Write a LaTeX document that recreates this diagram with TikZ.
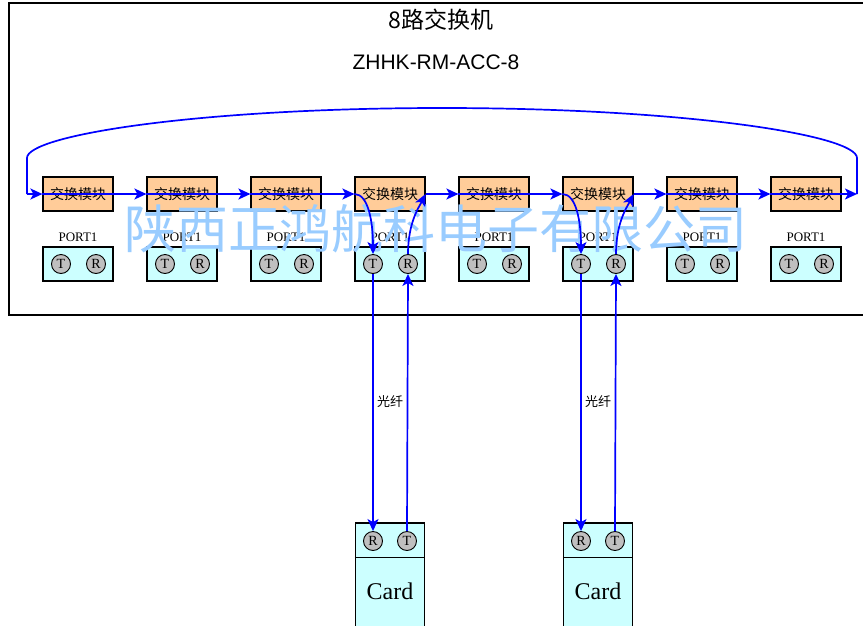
\documentclass[tikz,border=0pt]{standalone}
\usepackage{fontspec}
\setmainfont{Liberation Serif}
\newfontfamily\cjk{Noto Sans CJK SC}
\newfontfamily\arial{Liberation Sans}
\usepackage{tikz}
\usetikzlibrary{arrows.meta,calc}
\definecolor{modulfill}{HTML}{FFCC99}
\definecolor{portfill}{HTML}{CCFFFF}
\definecolor{pinfill}{HTML}{BFBFBF}
\definecolor{wmblue}{HTML}{99CCFF}

\begin{document}
\begin{tikzpicture}[x=1pt,y=-1pt,
  modul/.style={draw,line width=1.2pt,fill=modulfill,minimum width=70pt,minimum height=34pt,inner sep=0pt,font=\cjk\fontsize{14}{14}\selectfont},
  port/.style={draw,line width=1.2pt,fill=portfill,minimum width=70pt,minimum height=34pt,inner sep=0pt},
  pin/.style={circle,draw,line width=0.9pt,fill=pinfill,minimum size=19pt,inner sep=0pt,font=\fontsize{14}{14}\selectfont},
  card/.style={draw,line width=1.2pt,fill=portfill,minimum width=69pt,minimum height=117pt,inner sep=0pt},
  fib/.style={blue,line width=1.7pt,-{Stealth[length=12pt,width=11pt,inset=3pt]}},
  fibline/.style={blue,line width=1.7pt}]
\useasboundingbox (0,0) rectangle (863,625);
\draw[line width=1.2pt] (9,3) rectangle (880,315);

\node[font=\cjk\fontsize{23}{23}\selectfont] (title) at (441,20) {8路交换机};
\node[font=\arial\fontsize{21}{21}\selectfont] (model) at (436,62) {ZHHK-RM-ACC-8};

% modules and ports
\foreach \i in {1,...,8} {
  \node[modul] (m\i) at ({78+104*(\i-1)},194) {交换模块};
  \node[port] (p\i) at ({78+104*(\i-1)},264) {};
  \node[font=\fontsize{13}{13}\selectfont] (l\i) at ({78+104*(\i-1)},237) {PORT1};
  \node[pin] (t\i) at ({61+104*(\i-1)},264) {T};
  \node[pin] (r\i) at ({96+104*(\i-1)},264) {R};
}

% cards
\foreach \j/\x in {1/390,2/598} {
  \node[card] (c\j) at (\x,581.5) {};
  \draw[line width=1.2pt] ($(c\j.north west)+(0,35)$) -- ($(c\j.north east)+(0,35)$);
  \node[pin] (cr\j) at ({\x-17},541) {R};
  \node[pin] (ct\j) at ({\x+17},541) {T};
  \node[font=\fontsize{24}{24}\selectfont] (cl\j) at (\x,591) {Card};
}

\node[text=wmblue,font=\cjk\fontsize{52}{52}\selectfont] (wm) at (436,229) {陕西正鸿航科电子有限公司};

% ring
\coordinate (lft) at (27,194);
\coordinate (rgt) at (857,194);
\draw[fib] (lft) -- (m1.west);
\draw[fib] (m1.west) -- (m2.west);
\draw[fib] (m2.west) -- (m3.west);
\draw[fib] (m3.west) -- (m4.west);
\draw[fib] (m4.east) -- (m5.west);
\draw[fib] (m5.west) -- (m6.west);
\draw[fib] (m6.east) -- (m7.west);
\draw[fib] (m7.west) -- (m8.west);
\draw[fib] (m8.west) -- (rgt);
\draw[fibline] (rgt) -- (857,158) .. controls (857,135) and (684,108) .. (442,108)
  .. controls (200,108) and (27,135) .. (27,158) -- (lft);

% loops through the ports
\foreach \k in {4,6} {
  \draw[fib] (m\k.west) .. controls +(14,0) and +(0,-32) .. (t\k.north);
  \draw[fib] (r\k.north) .. controls +(0,-32) and +(-6,12) .. (m\k.east);
}

% fibre
\draw[fib] (t4.south) -- (cr1.north);
\draw[fib] (ct1.north) -- (r4.south);
\draw[fib] (t6.south) -- (cr2.north);
\draw[fib] (ct2.north) -- (r6.south);
\node[font=\cjk\fontsize{13}{13}\selectfont] (f1) at (390,402) {光纤};
\node[font=\cjk\fontsize{13}{13}\selectfont] (f2) at (598,402) {光纤};
\end{tikzpicture}
\end{document}
